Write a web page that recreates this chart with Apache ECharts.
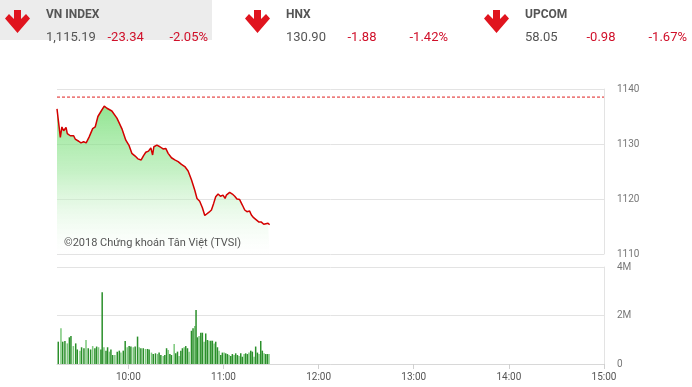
<!DOCTYPE html>
<html><head><meta charset="utf-8">
<script src="https://cdn.jsdelivr.net/npm/echarts@6/dist/echarts.min.js"></script>
<style>html,body{margin:0;padding:0;background:#fff}#c{width:692px;height:387px}</style>
</head><body><div id="c"></div>
<script>
// Index header data
const indexNames = ['VN INDEX', 'HNX', 'UPCOM'];
const indexValues = ['1,115.19', '130.90', '58.05'];
const indexChanges = ['-23.34', '-1.88', '-0.98'];
const indexPercents = ['-2.05%', '-1.42%', '-1.67%'];

// Price line (minutes after 9:00, index value)
const priceTimes = [15.0,17.1,18.1,19.2,20.7,21.5,23.4,25.5,26.5,28.7,30.1,31.8,33.4,35.3,37.5,39.1,40.8,42.9,44.8,46.5,49.6,52.8,55.9,58.4,60.5,62.2,64.3,66.0,68.1,69.6,71.0,72.7,74.2,75.3,76.1,78.0,79.9,81.1,81.9,83.6,85.1,87.2,89.3,91.4,93.5,95.6,97.7,99.8,101.9,103.3,105.0,106.7,108.2,109.3,110.9,112.4,113.8,115.1,116.6,118.1,119.7,121.0,121.8,123.9,125.6,127.1,128.5,130.2,131.9,133.4,134.8,136.5,137.6,139.0,140.7,142.4,143.9,145.4,146.6,148.1,149.1];
const priceValues = [1136.4,1131.2,1133.1,1132.4,1133.0,1131.9,1131.5,1131.5,1130.9,1130.5,1130.2,1130.4,1130.2,1131.3,1132.8,1133.1,1135.0,1136.0,1136.9,1136.5,1136.0,1134.7,1132.8,1130.7,1129.7,1128.3,1127.8,1127.3,1127.1,1127.9,1128.5,1128.7,1129.3,1128.0,1129.5,1129.8,1129.5,1129.2,1129.1,1129.2,1128.3,1127.5,1127.1,1126.8,1126.3,1125.9,1125.1,1123.5,1121.6,1120.1,1119.6,1118.4,1117.0,1117.2,1117.6,1118.0,1119.2,1120.4,1120.9,1120.5,1120.7,1120.1,1120.7,1121.2,1120.9,1120.5,1120.0,1119.9,1118.9,1118.0,1117.7,1117.8,1117.1,1116.6,1116.2,1115.8,1115.8,1115.4,1115.4,1115.6,1115.3];
const referenceValue = 1138.53;

// Volume bars (minutes after 9:00, shares in millions)
const volTimes = [15.8,17.5,18.6,20.0,21.5,22.8,23.8,25.3,26.8,27.8,29.5,30.5,32.0,33.3,34.7,36.2,37.5,38.9,40.0,41.2,42.7,43.5,44.6,45.9,46.9,48.0,49.0,50.1,51.5,53.0,54.3,55.3,56.8,58.0,59.3,60.5,61.6,63.1,64.3,65.8,66.8,67.9,69.4,70.8,72.1,73.1,74.6,75.7,77.1,78.4,79.4,80.5,82.0,83.0,84.1,85.1,86.2,87.2,88.9,89.9,91.0,92.0,93.1,94.1,95.2,96.2,97.3,98.3,99.8,100.8,101.9,102.7,103.6,104.6,105.7,106.7,107.8,108.8,109.9,110.9,112.0,113.0,114.1,115.1,116.2,117.2,118.3,119.3,120.4,121.4,122.5,123.5,124.6,125.6,126.7,127.7,128.8,129.8,130.9,131.9,133.0,134.0,135.1,136.1,137.2,138.2,139.3,140.3,141.4,142.4,143.5,144.5,145.6,146.6,147.7,148.7];
const volValues = [0.92,1.47,0.92,0.95,0.85,1.10,1.15,0.74,0.85,0.60,0.55,0.69,0.65,0.99,0.65,0.60,0.74,0.65,0.72,0.69,0.60,2.96,0.69,0.55,0.69,0.51,0.60,0.37,0.37,0.51,0.55,0.47,0.55,0.95,0.69,0.74,0.72,0.69,0.72,1.13,0.69,0.65,0.65,0.62,0.62,0.60,0.47,0.41,0.44,0.41,0.47,0.37,0.33,0.37,0.65,0.58,0.41,0.37,0.82,0.44,0.51,0.33,0.55,0.65,0.69,0.74,0.65,0.51,1.37,1.47,1.57,2.23,1.10,1.15,1.29,1.29,0.92,1.26,0.99,0.96,0.96,0.96,0.85,0.92,0.69,0.55,0.37,0.47,0.47,0.44,0.41,0.37,0.33,0.41,0.37,0.44,0.37,0.33,0.44,0.30,0.41,0.44,0.41,0.47,0.55,0.51,0.30,0.72,0.47,0.41,0.95,0.55,0.44,0.41,0.41,0.41];

// Axis ticks
const priceTicks = [1110, 1140, 10];
const volTicks = [0, 4, 2];
const hourTicks = [60, 120, 180, 240, 300, 360];
const hourLabels = ['10:00', '11:00', '12:00', '13:00', '14:00', '15:00'];

const chart = echarts.init(document.getElementById('c'), null, {renderer: 'canvas'});

const headerX = [0, 240, 479];
const graphics = [{type: 'rect', shape: {x: 0, y: 0, width: 212, height: 40}, style: {fill: '#ececec'}, silent: true}];
headerX.forEach((x0, i) => {
  graphics.push({
    type: 'polygon',
    shape: {points: [[x0+14,10],[x0+21,10],[x0+21,19],[x0+26,14],[x0+30,18.5],[x0+17.5,33],[x0+5,18.5],[x0+9,14],[x0+14,19]]},
    style: {fill: '#e0141e'}, silent: true
  });
  const tx = x0 + 46;
  graphics.push({type: 'text', x: tx, y: 9, style: {text: indexNames[i], fill: '#555', font: 'bold 12px Roboto', textVerticalAlign: 'top'}});
  graphics.push({type: 'text', x: tx, y: 31, style: {text: indexValues[i], fill: '#555', font: '13px Roboto', textVerticalAlign: 'top'}});
  graphics.push({type: 'text', x: tx + 61.5, y: 31, style: {text: indexChanges[i], fill: '#d0102a', font: '13px Roboto', textVerticalAlign: 'top'}});
  graphics.push({type: 'text', x: tx + 123.5, y: 31, style: {text: indexPercents[i], fill: '#d0102a', font: '13px Roboto', textVerticalAlign: 'top'}});
});
graphics.push({type: 'text', x: 64, y: 238, z: 10, style: {text: '©2018 Chứng khoán Tân Việt (TVSI)', fill: '#555', font: '11px Roboto', textVerticalAlign: 'top'}});

const gridLine = {show: true, lineStyle: {color: '#e3e3e3', width: 1}};

chart.setOption({
  animation: false,
  graphic: graphics,
  grid: [
    {left: 57, right: 88, top: 89, height: 165},
    {left: 57, right: 88, top: 267, height: 97}
  ],
  xAxis: [
    {gridIndex: 0, type: 'value', min: 15, max: 360, show: false, splitLine: {show: false}},
    {gridIndex: 1, type: 'value', min: 15, max: 360,
     axisLine: {show: true, lineStyle: {color: '#d8d8d8'}},
     axisTick: {show: true, customValues: hourTicks, length: 5, lineStyle: {color: '#d0d0d0'}},
     axisLabel: {show: true, customValues: hourTicks, color: '#555', fontSize: 10, fontFamily: 'Roboto', margin: 8,
       formatter: v => hourLabels[hourTicks.indexOf(v)] || ''},
     splitLine: {show: false}}
  ],
  yAxis: [
    {gridIndex: 0, type: 'value', position: 'right', min: priceTicks[0], max: priceTicks[1], interval: priceTicks[2],
     axisLine: {show: true, lineStyle: {color: '#e3e3e3'}}, axisTick: {show: false},
     axisLabel: {color: '#777', fontSize: 10, fontFamily: 'Roboto', margin: 13, formatter: v => String(v)}, splitLine: gridLine},
    {gridIndex: 1, type: 'value', position: 'right', min: volTicks[0], max: volTicks[1], interval: volTicks[2],
     axisLine: {show: true, lineStyle: {color: '#e3e3e3'}}, axisTick: {show: false},
     axisLabel: {color: '#777', fontSize: 10, fontFamily: 'Roboto', margin: 13, formatter: v => v === 0 ? '0' : v + 'M'},
     splitLine: gridLine}
  ],
  series: [
    {type: 'line', xAxisIndex: 0, yAxisIndex: 0, showSymbol: false, symbol: 'none', z: 3,
     data: priceTimes.map((t, i) => [t, priceValues[i]]),
     lineStyle: {color: '#d40000', width: 1.5},
     areaStyle: {origin: 'start', color: new echarts.graphic.LinearGradient(0, 0, 0, 1, [
       {offset: 0, color: 'rgba(100,218,100,1)'},
       {offset: 0.45, color: 'rgba(160,232,160,0.85)'},
       {offset: 1, color: 'rgba(255,255,255,0.3)'}])}},
    {type: 'line', xAxisIndex: 0, yAxisIndex: 0, symbol: 'none', silent: true, z: 4,
     data: [[15, referenceValue], [360, referenceValue]],
     lineStyle: {color: '#e02020', type: [3, 2], width: 1}},
    {type: 'bar', xAxisIndex: 1, yAxisIndex: 1, barWidth: 1.5,
     data: volTimes.map((t, i) => [t, volValues[i]]),
     itemStyle: {color: p => (p.dataIndex % 3 === 1 ? '#7cc87c' : '#2a8f2a')}}
  ]
});
</script></body></html>
